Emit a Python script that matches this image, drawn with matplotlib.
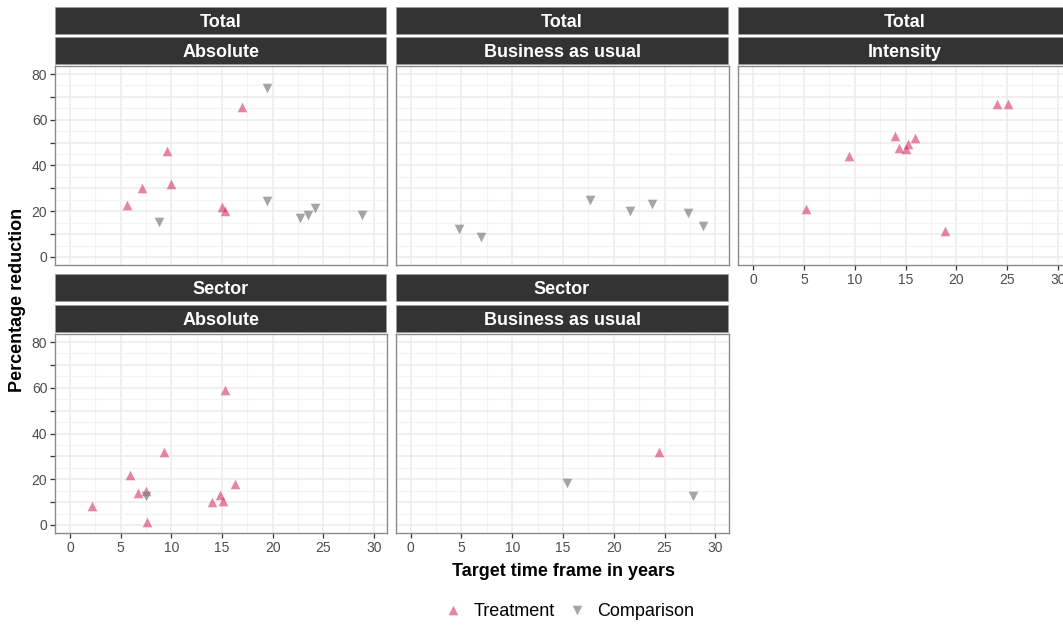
import matplotlib
matplotlib.use("Agg")
import matplotlib.pyplot as plt
from matplotlib.patches import Rectangle
from matplotlib.ticker import MultipleLocator
import numpy as np

plt.rcParams["font.family"] = ["Liberation Sans", "DejaVu Sans"]

# ----- data -----
# Total / Absolute
tot_abs_treat_x = [17.0, 9.6, 7.1, 10.0, 5.6, 15.0, 15.25]
tot_abs_treat_y = [65.6, 46.3, 30.2, 32.1, 22.9, 21.8, 19.9]
tot_abs_comp_x = [19.4, 19.4, 8.75, 22.7, 23.5, 24.2, 28.85]
tot_abs_comp_y = [73.7, 24.3, 15.1, 17.0, 18.2, 21.4, 18.3]

# Total / Business as usual
tot_bau_treat_x = []
tot_bau_treat_y = []
tot_bau_comp_x = [4.8, 6.9, 17.7, 21.6, 23.8, 27.3, 28.8]
tot_bau_comp_y = [12.3, 8.8, 24.8, 19.9, 23.3, 19.2, 13.6]

# Total / Intensity
tot_int_treat_x = [24.0, 25.1, 13.95, 15.9, 15.2, 14.4, 15.0, 9.4, 5.2, 18.9]
tot_int_treat_y = [66.8, 67.1, 53.0, 52.0, 49.2, 47.8, 47.3, 44.0, 20.8, 11.3]
tot_int_comp_x = []
tot_int_comp_y = []

# Sector / Absolute
sec_abs_treat_x = [15.25, 9.3, 5.95, 16.3, 6.7, 7.5, 14.85, 15.1, 14.0, 2.2, 7.6]
sec_abs_treat_y = [58.9, 31.8, 21.8, 17.8, 14.0, 14.9, 13.1, 10.7, 9.9, 8.2, 1.5]
sec_abs_comp_x = [7.45]
sec_abs_comp_y = [12.7]

# Sector / Business as usual
sec_bau_treat_x = [24.5]
sec_bau_treat_y = [32.1]
sec_bau_comp_x = [15.4, 27.85]
sec_bau_comp_y = [18.4, 12.5]

panels = [
    ("Total", "Absolute", tot_abs_treat_x, tot_abs_treat_y, tot_abs_comp_x, tot_abs_comp_y),
    ("Total", "Business as usual", tot_bau_treat_x, tot_bau_treat_y, tot_bau_comp_x, tot_bau_comp_y),
    ("Total", "Intensity", tot_int_treat_x, tot_int_treat_y, tot_int_comp_x, tot_int_comp_y),
    ("Sector", "Absolute", sec_abs_treat_x, sec_abs_treat_y, sec_abs_comp_x, sec_abs_comp_y),
    ("Sector", "Business as usual", sec_bau_treat_x, sec_bau_treat_y, sec_bau_comp_x, sec_bau_comp_y),
]

TREAT_COL = "#D6336C"
COMP_COL = "#7f7f7f"
MSIZE = 48

W, H = 1063, 625
fig = plt.figure(figsize=(W / 100, H / 100), dpi=100)


def px_axes(x0, y0, x1, y1):
    # pixel box (top-left origin) -> figure axes
    return fig.add_axes([x0 / W, 1 - y1 / H, (x1 - x0) / W, (y1 - y0) / H])


def strip(x0, y0, x1, y1, label):
    ax = px_axes(x0, y0, x1, y1)
    ax.set_axis_off()
    ax.add_patch(Rectangle((0, 0), 1, 1, transform=ax.transAxes,
                           facecolor="#333333", edgecolor="#b0b0b0", lw=1.2))
    ax.text(0.5, 0.46, label, color="white", fontsize=13, fontweight="bold",
            ha="center", va="center", transform=ax.transAxes)


col_x = [(55, 387), (395.5, 728.5), (738, 1071)]
row_y = [(7, 35, 37, 65, 66, 265), (274, 302, 305, 333, 334, 533)]

for i, (top, sub, tx, ty, cx, cy) in enumerate(panels):
    r, c = divmod(i, 3)
    x0, x1 = col_x[c]
    s1a, s1b, s2a, s2b, p0, p1 = row_y[r]
    strip(x0, s1a, x1, s1b, top)
    strip(x0, s2a, x1, s2b, sub)
    ax = px_axes(x0, p0, x1, p1)
    ax.set_xlim(-1.5, 31.3)
    ax.set_ylim(-3.5, 83.5)
    ax.xaxis.set_major_locator(MultipleLocator(5))
    ax.xaxis.set_minor_locator(MultipleLocator(2.5))
    ax.set_yticks(np.arange(0, 81, 10))
    ax.yaxis.set_minor_locator(MultipleLocator(5))
    ax.grid(which="major", color="#ebebeb", lw=1.1)
    ax.grid(which="minor", color="#f3f3f3", lw=0.8)
    ax.set_axisbelow(True)
    for sp in ax.spines.values():
        sp.set_color("#8a8a8a")
        sp.set_linewidth(1.0)
    ax.tick_params(which="minor", length=0)
    ax.tick_params(which="major", length=3.5, color="#333333", width=0.9,
                   labelsize=10, labelcolor="#4d4d4d", pad=2)
    show_x = (r == 1) or (c == 2)
    show_y = (c == 0)
    ax.tick_params(axis="x", bottom=show_x, labelbottom=show_x)
    ax.tick_params(axis="y", left=show_y, labelleft=show_y)
    ax.set_yticklabels([str(v) if v % 20 == 0 else "" for v in range(0, 81, 10)])
    ax.scatter(tx, ty, marker="^", s=MSIZE, color=TREAT_COL, alpha=0.6, lw=0)
    ax.scatter(cx, cy, marker="v", s=MSIZE, color=COMP_COL, alpha=0.7, lw=0)

fig.text(18 / W, 1 - 300 / H, "Percentage reduction", rotation=90, fontsize=13,
         fontweight="bold", ha="center", va="center")
fig.text(563 / W, 1 - 572 / H, "Target time frame in years", fontsize=13,
         fontweight="bold", ha="center", va="center")

# legend
lax = px_axes(0, 598, W, 624)
lax.set_axis_off()
lax.set_xlim(0, W)
lax.set_ylim(0, 1)
lax.scatter([453], [0.55], marker="^", s=MSIZE, color=TREAT_COL, alpha=0.6, lw=0)
lax.scatter([577], [0.55], marker="v", s=MSIZE, color=COMP_COL, alpha=0.7, lw=0)
lax.text(474, 0.5, "Treatment", fontsize=13, va="center", ha="left")
lax.text(597, 0.5, "Comparison", fontsize=13, va="center", ha="left")

fig.savefig("out.png", dpi=100)
